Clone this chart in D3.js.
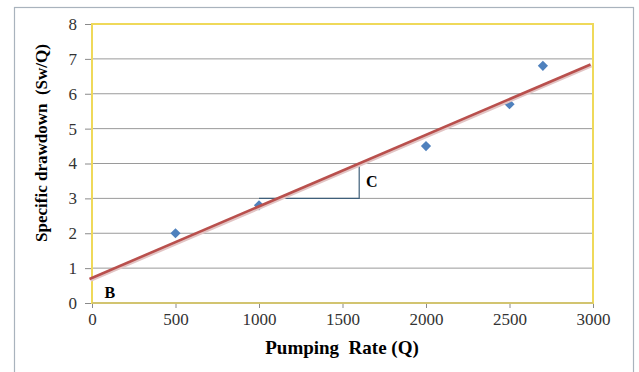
<!DOCTYPE html>
<html>
<head>
<meta charset="utf-8">
<script src="https://cdn.jsdelivr.net/npm/d3@7"></script>
<style>
  body { margin: 0; background: #fff; }
  svg { display: block; font-family: "Liberation Serif", "Times New Roman", serif; }
  svg text { font-family: "Liberation Serif", "Times New Roman", serif; }
</style>
</head>
<body>
<svg width="639" height="372"></svg>
<script>
// data
var pumpRate = [500, 1000, 2000, 2500, 2700];
var drawdown = [2.0, 2.8, 4.5, 5.7, 6.8];
var trendX = [-15, 2985];
var trendY = [0.69, 6.84];
var xTicks = [0, 500, 1000, 1500, 2000, 2500, 3000];
var yTicks = [0, 1, 2, 3, 4, 5, 6, 7, 8];
// slope triangle C
var triX = [1000, 1600, 1600];
var triY = [3, 3, 4.02];

var svg = d3.select("svg");
var margin = {top: 24, left: 92, right: 46, bottom: 69};
var width = 639 - margin.left - margin.right,
    height = 372 - margin.top - margin.bottom;

// outer frame
svg.append("rect")
    .attr("x", 14.5).attr("y", 7.5)
    .attr("width", 619).attr("height", 380)
    .attr("fill", "none")
    .attr("stroke", "#a9b3bd")
    .attr("stroke-width", 1.2);

var x = d3.scaleLinear().domain([0, 3000]).range([0, width]);
var y = d3.scaleLinear().domain([0, 8]).range([height, 0]);

var g = svg.append("g").attr("transform", "translate(" + margin.left + "," + margin.top + ")");

// gridlines
g.selectAll(".grid")
    .data(yTicks.filter(function(d) { return d > 0 && d < 8; }))
    .enter().append("line")
    .attr("x1", 0).attr("x2", width)
    .attr("y1", function(d) { return y(d); })
    .attr("y2", function(d) { return y(d); })
    .attr("stroke", "#9a9a9a")
    .attr("stroke-width", 1);

// axes
var xAxis = g.append("g")
    .attr("transform", "translate(0," + height + ")")
    .call(d3.axisBottom(x).tickValues(xTicks).tickSize(5).tickPadding(5).tickFormat(d3.format("d")));
var yAxis = g.append("g")
    .call(d3.axisLeft(y).tickValues(yTicks).tickSize(7).tickPadding(8));
[xAxis, yAxis].forEach(function(a) {
    a.select(".domain").remove();
    a.selectAll(".tick line").attr("stroke", "#8a8a8a");
    a.selectAll(".tick text")
        .attr("fill", "#333")
        .style("font-family", "'Liberation Serif', 'Times New Roman', serif")
        .style("font-size", "17px");
});

// plot border
g.append("rect")
    .attr("x", 0).attr("y", 0)
    .attr("width", width).attr("height", height)
    .attr("fill", "none")
    .attr("stroke", "#efd95a")
    .attr("stroke-width", 2);
g.append("line")
    .attr("x1", 0).attr("x2", width)
    .attr("y1", height).attr("y2", height)
    .attr("stroke", "#c8bc78").attr("stroke-width", 1.5);

// triangle C
var tri = d3.line()
    .x(function(d, i) { return x(triX[i]); })
    .y(function(d, i) { return y(triY[i]); });
g.append("path")
    .attr("d", tri(triX))
    .attr("fill", "none")
    .attr("stroke", "#3f5f7a")
    .attr("stroke-width", 1.2);

// points
var diamond = d3.symbol().type(d3.symbolSquare).size(52);
g.selectAll(".pt")
    .data(pumpRate)
    .enter().append("path")
    .attr("d", diamond)
    .attr("transform", function(d, i) { return "translate(" + x(d) + "," + y(drawdown[i]) + ") rotate(45)"; })
    .attr("fill", "#4f81bd");

// trend line with shadow
var trend = d3.line()
    .x(function(d, i) { return x(trendX[i]); })
    .y(function(d, i) { return y(trendY[i]); });
g.append("path")
    .attr("d", trend(trendX))
    .attr("transform", "translate(1,1.5)")
    .attr("stroke", "#e2c4c4")
    .attr("stroke-width", 3)
    .attr("fill", "none");
g.append("path")
    .attr("d", trend(trendX))
    .attr("stroke", "#b9504d")
    .attr("stroke-width", 2.6)
    .attr("fill", "none");

// labels
g.append("text")
    .attr("x", x(1640)).attr("y", y(3.5))
    .attr("dy", "0.35em")
    .style("font-weight", "bold").style("font-size", "16px")
    .text("C");
g.append("text")
    .attr("x", x(75)).attr("y", y(0.3))
    .attr("dy", "0.35em")
    .style("font-weight", "bold").style("font-size", "16px")
    .text("B");

// axis titles
svg.append("text")
    .attr("x", 342).attr("y", 354)
    .attr("text-anchor", "middle")
    .style("font-weight", "bold").style("font-size", "19px")
    .style("white-space", "pre")
    .text("Pumping  Rate (Q)");
svg.append("text")
    .attr("transform", "translate(47,143) rotate(-90)")
    .attr("text-anchor", "middle")
    .style("font-weight", "bold").style("font-size", "17px")
    .style("white-space", "pre")
    .text("Specific drawdown  (Sw/Q)");
</script>
</body>
</html>
